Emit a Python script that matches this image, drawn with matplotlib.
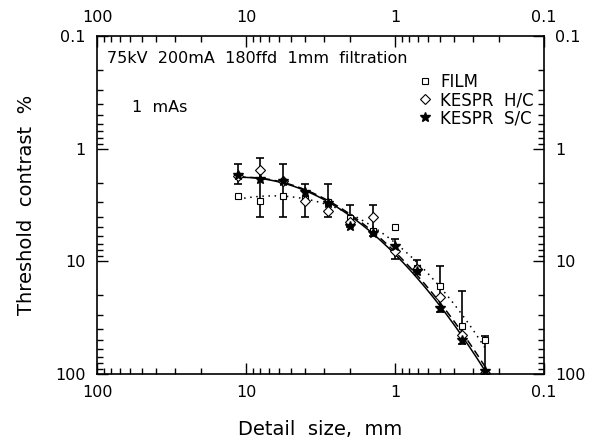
import numpy as np
import matplotlib
matplotlib.use("Agg")
import matplotlib.pyplot as plt
from matplotlib.ticker import LogLocator, NullFormatter, FixedLocator, FixedFormatter

plt.rcParams['font.family'] = ['DejaVu Sans']

# detail size (mm)
detail = [11.3, 8.0, 5.66, 4.0, 2.83, 2.0, 1.41, 1.0, 0.707, 0.5, 0.354, 0.25]
# threshold contrast (%)
film = [2.63, 2.91, 2.63, 2.81, 2.99, 4.09, 5.38, 4.92, 11.4, 16.6, 37.6, 50.3]
kespr_hc = [1.75, 1.54, 1.95, 2.91, 3.57, 4.5, 4.01, 8.09, 11.8, 20.7, 44.6, 97.0]
kespr_sc = [1.72, 1.87, 1.93, 2.44, 3.05, 4.86, 5.56, 7.31, 12.2, 25.8, 49.4, 94.4]
# error bar extent (low/high contrast) at each detail size
err_lo = [1.37, 1.22, 1.37, 2.07, 2.07, 3.18, 3.18, 6.37, 9.73, 11.0, 18.4, 46.4]
err_hi = [2.07, 4.06, 4.06, 4.06, 4.06, 4.99, 5.96, 9.6, 12.5, 28.4, 54.7, 100.0]

x_ticks = [100, 10, 1, 0.1]
x_labels = ['100', '10', '1', '0.1']
y_ticks = [0.1, 1, 10, 100]
y_labels = ['0.1', '1', '10', '100']

fig = plt.figure(figsize=(5.97, 4.46), dpi=100)
ax = fig.add_axes([0.1625, 0.1614, 0.7487, 0.7578])
ax.set_xscale('log')
ax.set_yscale('log')
ax.set_xlim(100, 0.1)
ax.set_ylim(100, 0.1)

x = np.array(detail)
sc = np.array(kespr_sc)
ax.errorbar(x, sc, yerr=[sc - np.array(err_lo), np.array(err_hi) - sc],
            fmt='none', ecolor='black', elinewidth=1.2, capsize=3, capthick=1.2)

# smooth fitted curves in log-log space
xs = np.logspace(np.log10(x.max()), np.log10(x.min()), 200)
for ys, ls, deg in [(kespr_sc, '-', 2), (kespr_hc, (0, (5, 3)), 2), (film, (0, (1, 3)), 3)]:
    p = np.polyfit(np.log10(x), np.log10(ys), deg)
    ax.plot(xs, 10 ** np.polyval(p, np.log10(xs)), color='black', lw=1.1, ls=ls)

ax.plot(x, film, 's', mfc='white', mec='black', ms=5, mew=0.8, label='FILM')
ax.plot(x, kespr_hc, 'D', mfc='white', mec='black', ms=5, mew=0.8, label='KESPR  H/C')
ax.plot(x, kespr_sc, '*', color='black', ms=7, label='KESPR  S/C')

leg = ax.legend(loc='upper right', bbox_to_anchor=(1.0, 0.92), frameon=False,
                fontsize=12, handletextpad=0.35, labelspacing=0.0,
                handlelength=1.2, borderaxespad=0.2)

ax.text(0.022, 0.935, '75kV  200mA  180ffd  1mm  filtration', transform=ax.transAxes,
        fontsize=11.5, va='center', ha='left')
ax.text(0.078, 0.79, '1  mAs', transform=ax.transAxes, fontsize=11.5, va='center', ha='left')

ax.xaxis.set_major_locator(FixedLocator(x_ticks))
ax.xaxis.set_major_formatter(FixedFormatter(x_labels))
ax.yaxis.set_major_locator(FixedLocator(y_ticks))
ax.yaxis.set_major_formatter(FixedFormatter(y_labels))
ax.xaxis.set_minor_locator(LogLocator(base=10, subs=np.arange(2, 10)))
ax.yaxis.set_minor_locator(LogLocator(base=10, subs=np.arange(2, 10)))
ax.xaxis.set_minor_formatter(NullFormatter())
ax.yaxis.set_minor_formatter(NullFormatter())
ax.tick_params(which='both', direction='in', top=True, right=True,
               labeltop=True, labelright=True, labelsize=11.5, width=1)
ax.tick_params(which='major', length=8, pad=8)
ax.tick_params(which='minor', length=4)
for s in ax.spines.values():
    s.set_linewidth(1.2)

ax.set_xlabel('Detail  size,  mm', fontsize=14, labelpad=14)
ax.set_ylabel('Threshold  contrast  %', fontsize=14, labelpad=14)

fig.savefig('out.png', dpi=100)
